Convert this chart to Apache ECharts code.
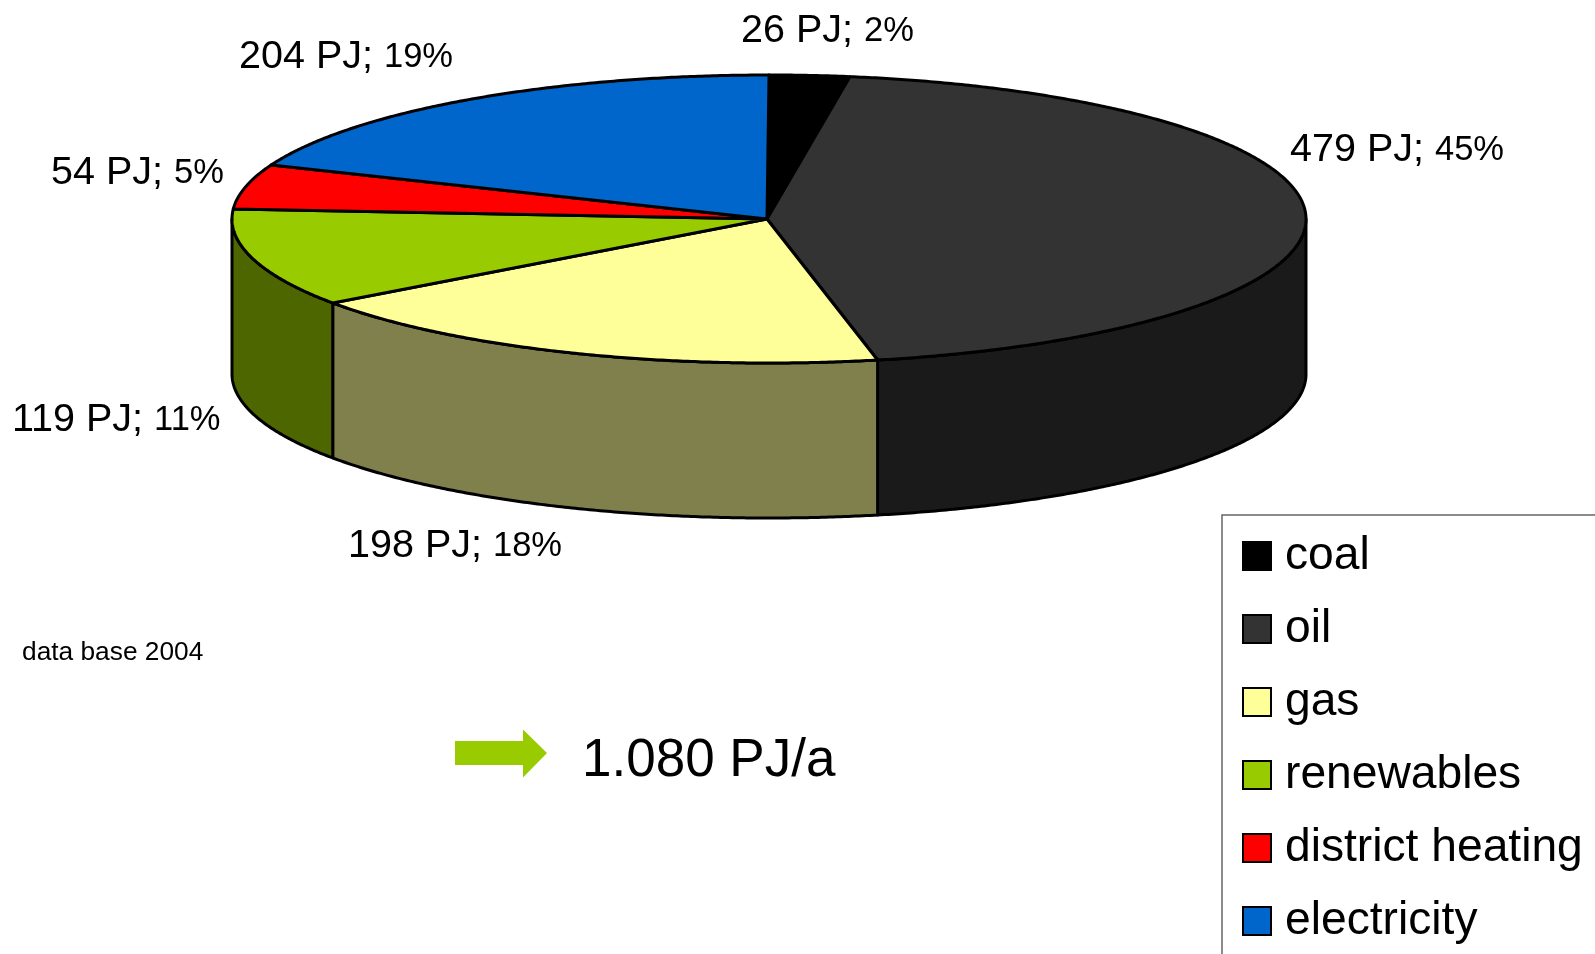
<!DOCTYPE html>
<html>
<head>
<meta charset="utf-8">
<style>html,body{margin:0;padding:0;background:#fff}#c{width:1595px;height:954px}</style>
<script src="https://cdn.jsdelivr.net/npm/echarts@6/dist/echarts.min.js"></script>
</head>
<body>
<div id="c"></div>
<script>
// Data
const categories = ['coal', 'oil', 'gas', 'renewables', 'district heating', 'electricity'];
const valuesPJ = [26, 479, 198, 119, 54, 204];
const percents = [2, 45, 18, 11, 5, 19];
const totalLabel = '1.080 PJ/a';
const noteLabel = 'data base 2004';

// Styles and layout
const topColors = ['#000000', '#333333', '#FFFF99', '#99CC00', '#FF0000', '#0066CC'];
const sideColors = ['#000000', '#1A1A1A', '#80804D', '#4D6600', '#800000', '#003366'];
const labelAnchors = [[741, 27], [1290, 146], [348, 542], [12, 416], [51, 169], [239, 53]];
const pie = { cx: 769, cy: 219, rx: 537, ry: 144, depth: 155, apexDx: -2 };
const FONT = '"Liberation Sans", Arial, sans-serif';

const total = valuesPJ.reduce((a, b) => a + b, 0);
const squash = pie.ry / pie.rx;
const frontFrom = total / 4, frontTo = total * 3 / 4;

function arc(api, a, b) {
  const n = Math.max(2, Math.ceil((b - a) / total * 900));
  const pts = [];
  for (let i = 0; i <= n; i++) {
    const p = api.coord([1, a + (b - a) * i / n]);
    pts.push([p[0], pie.cy + (p[1] - pie.cy) * squash]);
  }
  return pts;
}

function makeRender(idx) {
  return function (params, api) {
    const start = api.value(0), end = api.value(1);
    const children = [];
    const lineStyle = { stroke: '#000', lineWidth: 3, lineJoin: 'round' };
    const a = Math.max(start, frontFrom), b = Math.min(end, frontTo);
    if (b > a) {
      const upper = arc(api, a, b);
      const lower = upper.map(p => [p[0], p[1] + pie.depth]).reverse();
      children.push({
        type: 'polygon',
        shape: { points: upper.concat(lower) },
        style: Object.assign({ fill: sideColors[idx] }, lineStyle)
      });
    }
    const centre = api.coord([0, start]);
    children.push({
      type: 'polygon',
      shape: { points: [[centre[0] + pie.apexDx, pie.cy]].concat(arc(api, start, end)) },
      style: Object.assign({ fill: topColors[idx] }, lineStyle)
    });
    return { type: 'group', children };
  };
}

let running = 0;
const series = categories.map((name, i) => {
  const from = running;
  running += valuesPJ[i];
  return {
    name,
    type: 'custom',
    coordinateSystem: 'polar',
    renderItem: makeRender(i),
    itemStyle: { color: topColors[i] },
    data: [[from, running]],
    silent: true,
    z: 2
  };
});

const labelGraphics = categories.map((name, i) => ({
  type: 'text',
  left: labelAnchors[i][0],
  top: labelAnchors[i][1] - 16,
  z: 10,
  style: {
    text: '{a|' + valuesPJ[i] + ' PJ;}{b|' + percents[i] + '%}',
    rich: {
      a: { fontFamily: FONT, fontSize: 39.5, fill: '#000', color: '#000' },
      b: { fontFamily: FONT, fontSize: 34.5, fill: '#000', color: '#000', padding: [0, 0, 0, 11] }
    }
  }
}));

const option = {
  backgroundColor: '#fff',
  animation: false,
  polar: { center: [pie.cx, pie.cy], radius: pie.rx },
  angleAxis: { type: 'value', min: 0, max: total, startAngle: 90, show: false },
  radiusAxis: { type: 'value', min: 0, max: 1, show: false },
  legend: {
    orient: 'vertical',
    left: 1222,
    top: 515,
    height: 430,
    width: 370,
    padding: [18, 20, 30, 20],
    borderColor: '#666',
    borderWidth: 1.5,
    backgroundColor: '#fff',
    itemWidth: 28,
    itemHeight: 28,
    itemGap: 27,
    selectedMode: false,
    icon: 'rect',
    itemStyle: { borderColor: '#000', borderWidth: 2 },
    textStyle: { fontFamily: FONT, fontSize: 46.2, color: '#000', lineHeight: 46, padding: [0, 0, 0, 9] },
    data: categories
  },
  graphic: labelGraphics.concat([
    {
      type: 'text', left: 22, top: 640, z: 10,
      style: { text: noteLabel, font: '26.3px ' + FONT, fill: '#000' }
    },
    {
      type: 'polygon', z: 10,
      shape: { points: [[455, 741], [523, 741], [523, 729.5], [547, 753], [523, 777.5], [523, 765], [455, 765]] },
      style: { fill: '#99CC00' }
    },
    {
      type: 'text', left: 582, top: 735, z: 10,
      style: { text: totalLabel, font: '53px ' + FONT, fill: '#000' }
    }
  ]),
  series
};

echarts.init(document.getElementById('c'), null, { renderer: 'canvas' }).setOption(option);
</script>
</body>
</html>
